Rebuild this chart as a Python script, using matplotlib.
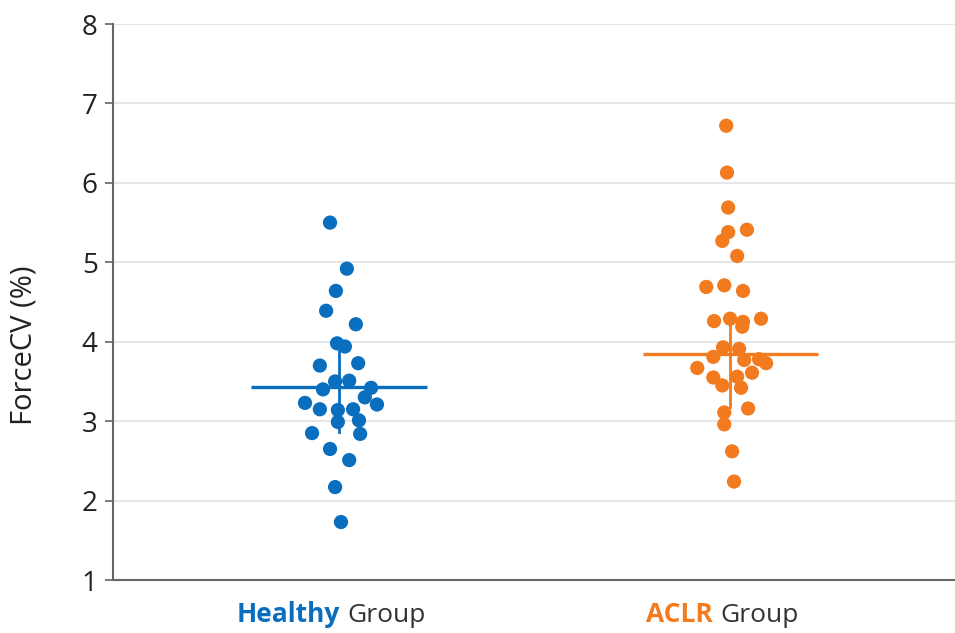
import matplotlib
matplotlib.use("Agg")
import matplotlib.pyplot as plt
from matplotlib.offsetbox import TextArea, HPacker, AnnotationBbox

# ForceCV per participant
healthy = [5.50, 4.92, 4.64, 4.39, 4.22, 3.98, 3.94, 3.70, 3.73, 3.50, 3.51, 3.40, 3.42, 3.30,
           3.23, 3.21, 3.15, 3.14, 3.15, 2.99, 3.01, 2.85, 2.84, 2.65, 2.51, 2.17, 1.73]
healthy_dx = [-0.023, 0.020, -0.008, -0.033, 0.043, -0.005, 0.015, -0.049, 0.049, -0.010, 0.026,
              -0.041, 0.082, 0.066, -0.087, 0.097, -0.049, -0.003, 0.036, -0.003, 0.051, -0.069,
              0.054, -0.023, 0.026, -0.010, 0.005]

aclr = [6.72, 6.13, 5.69, 5.38, 5.41, 5.27, 5.08, 4.69, 4.71, 4.64, 4.26, 4.29, 4.25, 4.19, 4.29,
        3.93, 3.91, 3.81, 3.77, 3.78, 3.73, 3.67, 3.61, 3.55, 3.56, 3.45, 3.42, 3.16, 3.11, 2.96,
        2.62, 2.24]
aclr_dx = [-0.010, -0.008, -0.005, -0.005, 0.043, -0.020, 0.018, -0.061, -0.015, 0.033, -0.041,
           0.000, 0.033, 0.031, 0.079, -0.018, 0.023, -0.043, 0.036, 0.074, 0.092, -0.084, 0.056,
           -0.043, 0.018, -0.020, 0.028, 0.046, -0.015, -0.015, 0.005, 0.010]

# summary line and whisker per group
centers = [3.43, 3.85]
lowers = [2.86, 3.18]
uppers = [3.98, 4.25]

group_names = ["Healthy", "ACLR"]
yticks = [1, 2, 3, 4, 5, 6, 7, 8]

blue = "#0a6ebf"
orange = "#f27b1f"
colors = [blue, orange]

fig = plt.figure(figsize=(9.55, 6.33), dpi=100)
ax = fig.add_axes([0.1183, 0.0837, 0.8817, 0.8783])

for i, (vals, dx) in enumerate([(healthy, healthy_dx), (aclr, aclr_dx)]):
    xs = [i + d for d in dx]
    ax.scatter(xs, vals, s=105, color=colors[i], edgecolors="none", zorder=3)
    ax.plot([i - 0.224, i + 0.224], [centers[i], centers[i]], color=colors[i], lw=2.4,
            solid_capstyle="butt", zorder=4)
    ax.plot([i, i], [lowers[i], uppers[i]], color=colors[i], lw=2.0, zorder=4)

ax.set_xlim(-0.578, 1.575)
ax.set_ylim(1, 8)
ax.set_yticks(yticks)
ax.set_yticklabels([str(t) for t in yticks], fontfamily="Open Sans", fontsize=20, color="#222222")
ax.set_xticks([])
ax.grid(axis="y", color="#e4e4e4", lw=1.3, zorder=0)
ax.set_axisbelow(True)

for side in ["top", "right"]:
    ax.spines[side].set_visible(False)
for side in ["left", "bottom"]:
    ax.spines[side].set_color("#666666")
    ax.spines[side].set_linewidth(1.5)
ax.tick_params(axis="y", length=6, width=1.2, color="#666666", pad=5)

ax.set_ylabel("ForceCV (%)", fontfamily="Open Sans", fontsize=21, color="#222222")
ax.yaxis.set_label_coords(-0.088, 0.423)

# two-tone group labels under the axis
for i, name in enumerate(group_names):
    part1 = TextArea(name, textprops=dict(color=colors[i], fontweight="bold", fontsize=19,
                                          family="Open Sans"))
    part2 = TextArea("Group", textprops=dict(color="#333333", fontsize=19, family="Open Sans"))
    box = HPacker(children=[part1, part2], align="baseline", pad=0, sep=6)
    ab = AnnotationBbox(box, (i - 0.02, 0), xycoords=("data", "axes fraction"),
                        xybox=(0, -25), boxcoords="offset points", frameon=False,
                        box_alignment=(0.5, 0.5), annotation_clip=False)
    ax.add_artist(ab)

fig.savefig("out.png", dpi=100)
